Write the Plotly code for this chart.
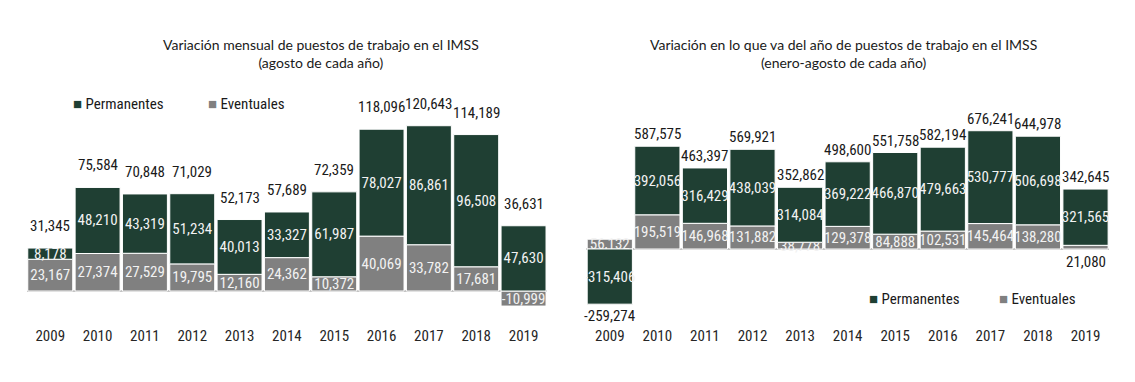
import plotly.graph_objects as go

years = [str(y) for y in range(2009, 2020)]

mensual_permanentes = [8178, 48210, 43319, 51234, 40013, 33327, 61987, 78027, 86861, 96508, 47630]
mensual_eventuales = [23167, 27374, 27529, 19795, 12160, 24362, 10372, 40069, 33782, 17681, -10999]
mensual_total = [31345, 75584, 70848, 71029, 52173, 57689, 72359, 118096, 120643, 114189, 36631]

anual_permanentes = [-315406, 392056, 316429, 438039, 314084, 369222, 466870, 479663, 530777, 506698, 321565]
anual_eventuales = [56132, 195519, 146968, 131882, 38778, 129378, 84888, 102531, 145464, 138280, 21080]
anual_total = [-259274, 587575, 463397, 569921, 352862, 498600, 551758, 582194, 676241, 644978, 342645]

title_left = "Variación mensual de puestos de trabajo en el IMSS<br>(agosto de cada año)"
title_right = "Variación en lo que va del año de puestos de trabajo en el IMSS<br>(enero-agosto de cada año)"

GREEN = "#1f3f33"
GRAY = "#808080"
NARROW = "Liberation Sans Narrow, Arial Narrow, Roboto Condensed, Liberation Sans, sans-serif"
W, H = 1135, 382


def fmt(v):
    return f"{v:,}"


def px_x(p):
    return p / W


def px_y(p):
    return 1 - p / H


fig = go.Figure()

panels = [
    ("x", "y", mensual_permanentes, mensual_eventuales, mensual_total, 22, False),
    ("x2", "y2", anual_permanentes, anual_eventuales, anual_total, 12, True),
]

annotations = []
for xa, ya, perm, event, total, shift, move_small in panels:
    emax = max(abs(v) for v in event)
    ev_text = []
    for v in event:
        if move_small and abs(v) < 0.15 * emax:
            ev_text.append("")
        else:
            ev_text.append(fmt(v))
    fig.add_trace(go.Bar(
        x=years, y=event, name="Eventuales", xaxis=xa, yaxis=ya,
        marker=dict(color=GRAY, line=dict(color="white", width=1)),
        text=ev_text, textposition="inside", insidetextanchor="middle", textangle=0,
        insidetextfont=dict(color="#f2f2f2", size=15, family=NARROW),
        showlegend=False, hoverinfo="skip",
    ))
    fig.add_trace(go.Bar(
        x=years, y=perm, name="Permanentes", xaxis=xa, yaxis=ya,
        marker=dict(color=GREEN, line=dict(color="white", width=1)),
        text=[fmt(v) for v in perm], textposition="inside", insidetextanchor="middle", textangle=0,
        insidetextfont=dict(color="#f2f2f2", size=15, family=NARROW),
        showlegend=False, hoverinfo="skip",
    ))
    # small segments labelled below the baseline
    for i, (v, t) in enumerate(zip(event, ev_text)):
        if t == "":
            annotations.append(dict(
                x=i, y=0, xref=xa, yref=ya, text=fmt(v), showarrow=False,
                yanchor="middle", yshift=-13,
                font=dict(size=15, family=NARROW, color="#1a1a1a"),
            ))
    # totals
    for i, (p, e, t) in enumerate(zip(perm, event, total)):
        top = max(p, 0) + max(e, 0)
        bot = min(p, 0) + min(e, 0)
        if t >= 0:
            y, ys = top, shift
        else:
            y, ys = bot, -shift
        annotations.append(dict(
            x=i, y=y, xref=xa, yref=ya, text=fmt(t), showarrow=False,
            yanchor="middle", yshift=ys,
            font=dict(size=15, family=NARROW, color="#1a1a1a"),
        ))

TITLE_FONT = dict(size=14, family="Lato, Open Sans, sans-serif", color="#1a1a1a")
annotations.append(dict(
    x=px_x(321), y=px_y(54), xref="paper", yref="paper", text=title_left,
    showarrow=False, xanchor="center", yanchor="middle", font=TITLE_FONT,
))
annotations.append(dict(
    x=px_x(843.5), y=px_y(54), xref="paper", yref="paper", text=title_right,
    showarrow=False, xanchor="center", yanchor="middle", font=TITLE_FONT,
))

# legends (drawn as text entries with colored squares)
legend_names = ["Permanentes", "Eventuales"]
legend_colors = [GREEN, GRAY]
legend_pos = [((71, 104), (206, 104)), ((867, 299), (997, 299))]
for pair in legend_pos:
    for (lx, ly), name, col in zip(pair, legend_names, legend_colors):
        annotations.append(dict(
            x=px_x(lx), y=px_y(ly), xref="paper", yref="paper",
            text=f"<span style='color:{col}'>■</span> {name}",
            showarrow=False, xanchor="left", yanchor="middle",
            font=dict(size=15, family=NARROW, color="#1a1a1a"),
        ))

ydom = [px_y(325), px_y(95)]
common_x = dict(
    type="category", categoryorder="array", categoryarray=years, range=[-0.5, 10.5],
    showgrid=False, showline=False, ticks="",
    tickfont=dict(size=15, family=NARROW, color="#262626"), fixedrange=True,
)
common_y = dict(
    showgrid=False, showticklabels=False, zeroline=True, zerolinecolor="#c4c4c4",
    zerolinewidth=2, showline=False, ticks="", fixedrange=True,
)

fig.update_layout(
    width=W, height=H,
    margin=dict(l=0, r=0, t=0, b=0),
    paper_bgcolor="white", plot_bgcolor="white",
    barmode="relative", bargap=0.05,
    uniformtext=dict(minsize=15, mode="show"),
    showlegend=False,
    xaxis=dict(domain=[px_x(26.6), px_x(547.2)], anchor="y", **common_x),
    yaxis=dict(domain=ydom, range=[-24820, 143070], anchor="x", **common_y),
    xaxis2=dict(domain=[px_x(586), px_x(1109.3)], anchor="y2", **common_x),
    yaxis2=dict(domain=ydom, range=[-434500, 880500], anchor="x2", **common_y),
    annotations=annotations,
)

fig.write_html(
    "out.html",
    config={"displayModeBar": False},
    post_script="document.body.style.margin='0px';document.body.style.overflow='hidden';",
)
